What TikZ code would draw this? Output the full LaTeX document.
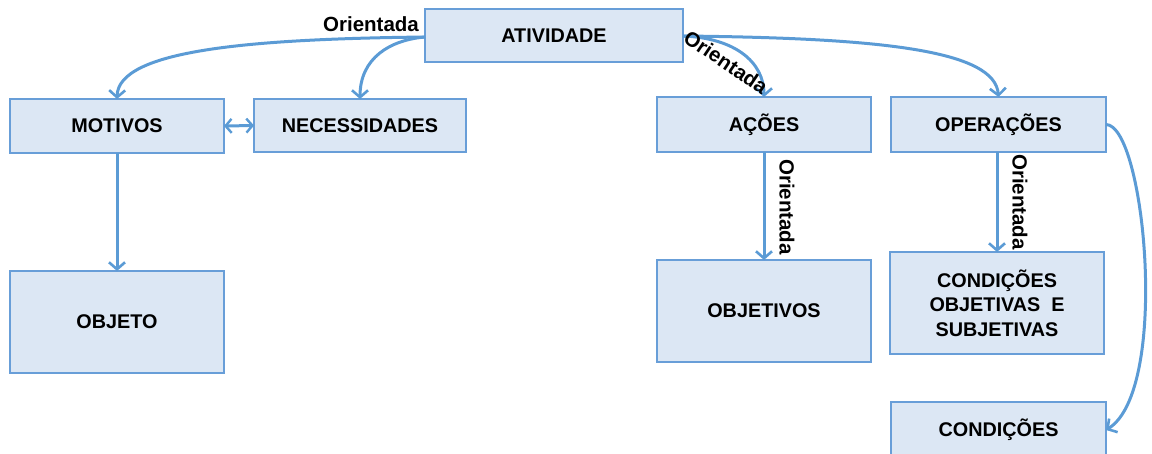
\documentclass[tikz,border=0pt]{standalone}
\usepackage{fontspec}
\setmainfont{Liberation Sans}
\usetikzlibrary{arrows.meta}
\definecolor{linkblue}{RGB}{91,155,213}
\definecolor{boxfill}{RGB}{220,231,244}
\definecolor{boxline}{RGB}{104,158,216}
\tikzset{
  box/.style={draw=boxline, fill=boxfill, line width=2.2pt, rectangle, inner sep=0pt,
    outer sep=0pt, align=center, font=\fontsize{19.8}{24.5}\selectfont\bfseries, text=black},
  barb/.tip={Straight Barb[length=7pt,width=16pt,line width=2.6pt]},
  smallbarb/.tip={Straight Barb[length=6pt,width=14pt,line width=2.4pt]},
  link/.style={draw=linkblue, line width=3pt, -{barb}},
  lbl/.style={font=\fontsize{20.5}{22}\selectfont\bfseries, text=black, inner sep=0pt}
}
\begin{document}
\begin{tikzpicture}[x=1pt,y=-1pt]
\useasboundingbox (0,0) rectangle (1152,453);
% boxes
\node[box, minimum width=258pt, minimum height=53pt] (ativ) at (554,35.5) {ATIVIDADE};
\node[box, minimum width=214pt, minimum height=54pt] (mot) at (117,126) {MOTIVOS};
\node[box, minimum width=212pt, minimum height=53pt] (nec) at (360,125.5) {NECESSIDADES};
\node[box, minimum width=214pt, minimum height=102pt] (obj) at (117,322) {OBJETO};
\node[box, minimum width=214pt, minimum height=55pt] (acoes) at (764,124.5) {AÇÕES};
\node[box, minimum width=215pt, minimum height=55pt] (oper) at (998.5,124.5) {OPERAÇÕES};
\node[box, minimum width=214pt, minimum height=102pt] (objv) at (764,311) {OBJETIVOS};
\node[box, minimum width=214pt, minimum height=102pt] (cond2) at (997,303) {CONDIÇÕES\\OBJETIVAS\ \ E\\SUBJETIVAS};
\node[box, minimum width=215pt, minimum height=56pt] (cond) at (998.5,430) {CONDIÇÕES};
% connectors
\coordinate (aL) at (425,37);
\coordinate (aR) at (683,36);
\draw[link] (aL) .. controls (250,39) and (118,50) .. (mot.north);
\draw[link] (aL) .. controls (390,40) and (360,58) .. (nec.north);
\draw[link] (aR) .. controls (735,38) and (764,62) .. (acoes.north);
\draw[link] (aR) .. controls (880,38) and (995,50) .. (oper.north);
\draw[draw=linkblue, line width=3pt, {smallbarb}-{smallbarb}] (mot.east) -- (nec.west);
\draw[link] (mot.south) -- (obj.north);
\draw[link] (acoes.south) -- (objv.north);
\draw[link] (oper.south -| 997,0) -- (cond2.north);
\draw[link] (oper.east) .. controls (1145,125) and (1170,390) .. (cond.east);
% labels
\node[lbl] (l1) at (371,24) {Orientada};
\node[lbl, rotate=-34] (l2) at (726,62) {Orientada};
\node[lbl, rotate=-90] (l3) at (787,207) {Orientada};
\node[lbl, rotate=-90] (l4) at (1020,202) {Orientada};
\end{tikzpicture}
\end{document}
